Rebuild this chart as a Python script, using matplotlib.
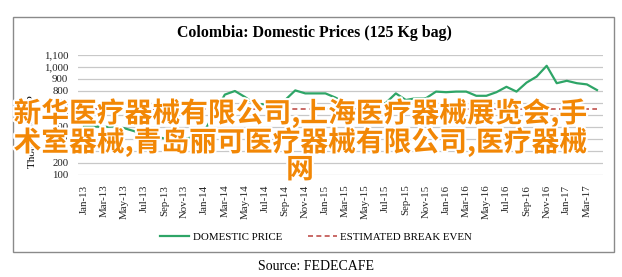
import matplotlib
matplotlib.use("Agg")
import matplotlib.pyplot as plt
import matplotlib.patheffects as pe
from matplotlib.patches import Rectangle

# monthly, Jan-13 .. Apr-17
months = ['Jan', 'Feb', 'Mar', 'Apr', 'May', 'Jun', 'Jul', 'Aug', 'Sep', 'Oct', 'Nov', 'Dec']
labels = [f"{m}-{y}" for y in range(13, 18) for m in months][:52]

domestic_price = [505, 505, 500, 505, 490, 465, 440, 420, 405, 395, 400, 420,
                  470, 620, 770, 800, 750, 690, 690, 715, 725, 805, 780, 780,
                  780, 745, 700, 685, 685, 690, 700, 780, 725, 740, 740, 795,
                  790, 795, 795, 760, 760, 790, 835, 795, 870, 920, 1010, 865,
                  885, 865, 855, 808]
break_even = [650] * len(domestic_price)

y_ticks = [100, 200, 300, 400, 500, 600, 700, 800, 900, 1000, 1100]

overlay = "新华医疗器械有限公司,上海医疗器械展览会,手\n术室器械,青岛丽可医疗器械有限公司,医疗器械\n网"

serif = ['Liberation Serif', 'DejaVu Serif']


def main():
    fig = plt.figure(figsize=(6.22, 2.77), dpi=100)
    W, H = 622, 277
    ax = fig.add_axes([78 / W, 1 - 175 / H, (603 - 78) / W, 120 / H])

    x = list(range(len(domestic_price)))
    ax.plot(x, domestic_price, color='#2ea567', lw=1.6, label='DOMESTIC PRICE', zorder=3)
    ax.plot(x, break_even, color='#c0504d', lw=1.2, ls=(0, (3, 2)),
            label='ESTIMATED BREAK EVEN', zorder=3)

    ax.set_xlim(-0.6, len(x) - 0.4)
    ax.set_ylim(100, 1100)
    ax.set_yticks(y_ticks)
    ax.set_yticklabels([f"{v:,}" for v in y_ticks], fontfamily=serif, fontsize=7.8)
    ax.set_xticks(x[::2])
    ax.set_xticklabels(labels[::2], rotation=90, fontfamily=serif, fontsize=7.8)
    ax.tick_params(length=0, pad=7, colors='#222222')
    ax.grid(axis='y', color='#c8c8c8', lw=0.9)
    for s in ax.spines.values():
        s.set_visible(False)

    ax.set_ylabel('Thousands COP', fontfamily=serif, fontsize=8)
    ax.yaxis.set_label_coords(-0.078, 0.36)

    fig.text(314 / W, 1 - 33 / H, 'Colombia: Domestic Prices (125 Kg bag)',
             ha='center', va='center', fontfamily=serif, fontsize=11.4, fontweight='bold')

    fig.legend(loc='center', bbox_to_anchor=(316 / W, 1 - 237 / H), ncol=2, frameon=False,
               prop={'family': serif, 'size': 7.8}, handlelength=2.7,
               handletextpad=0.3, columnspacing=2.4)

    fig.patches.append(Rectangle((12.7 / W, 1 - 252 / H), (614 - 12.7) / W, (252 - 16.6) / H,
                                 transform=fig.transFigure, fill=False,
                                 edgecolor='#8a8a8a', lw=1))

    fig.text(316 / W, 1 - 267 / H, 'Source: FEDECAFE', ha='center', va='center',
             fontfamily=serif, fontsize=10)

    fig.text(300 / W, 1 - 141 / H, overlay, ha='center', va='center', multialignment='center',
             family=['Noto Sans CJK SC', 'DejaVu Sans'], fontsize=20, fontweight='bold',
             color='#f28705', linespacing=0.95,
             path_effects=[pe.withStroke(linewidth=3, foreground='white')], zorder=10)

    fig.savefig('out.png', dpi=100)


if __name__ == '__main__':
    main()
